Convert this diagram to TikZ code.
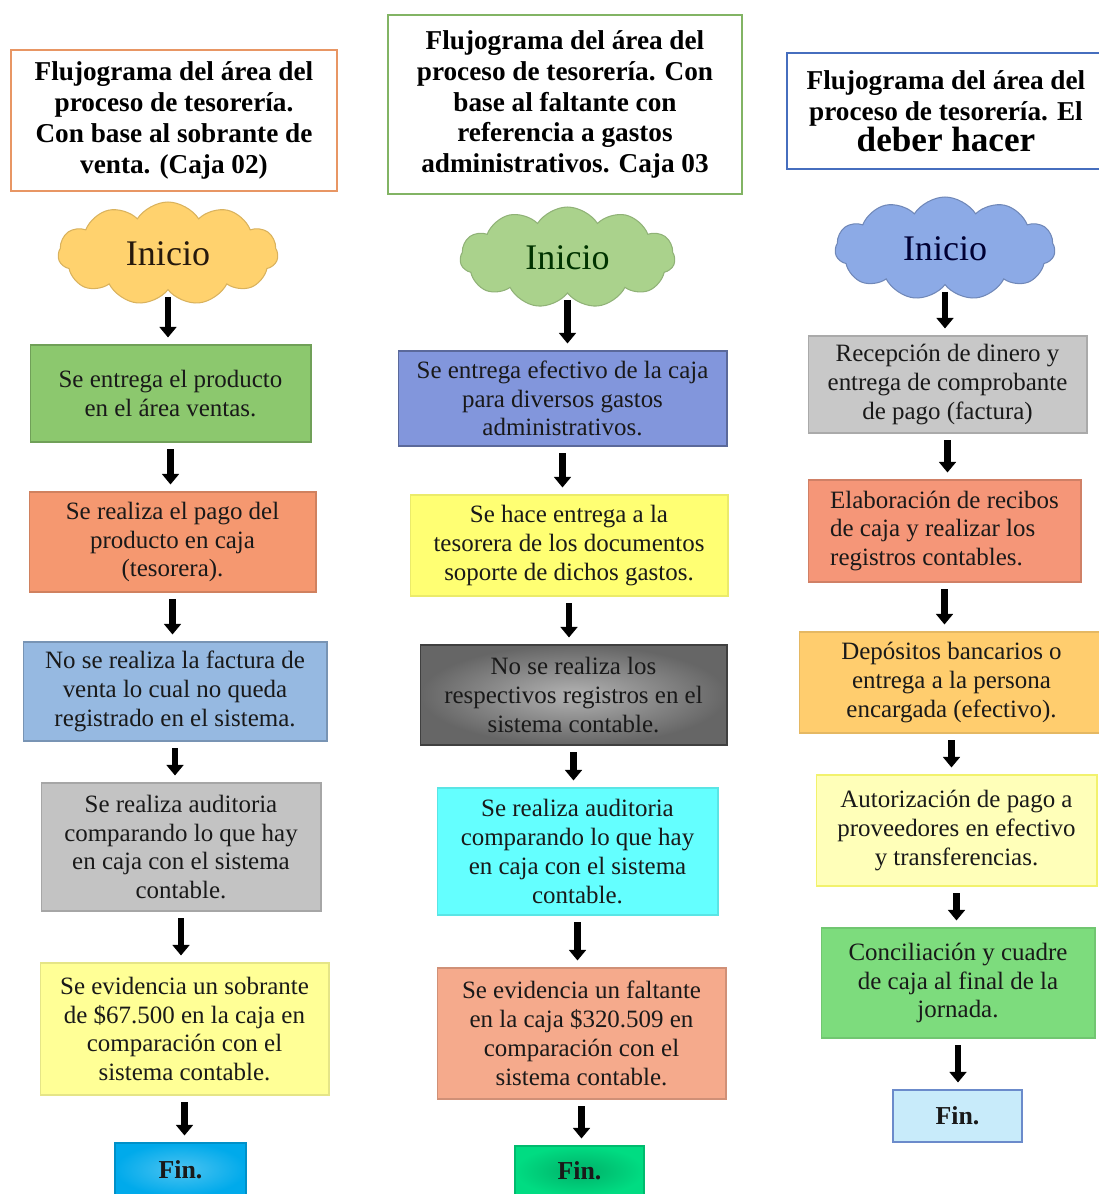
\documentclass[tikz,border=0pt]{standalone}
\usepackage{fontspec}
\setmainfont{Liberation Serif}
\usetikzlibrary{shapes.symbols,arrows.meta}

\definecolor{bordeNaranja}{RGB}{232,150,100}
\definecolor{bordeVerde}{RGB}{130,180,100}
\definecolor{bordeAzul}{RGB}{70,110,190}
\definecolor{nubeNaranja}{RGB}{255,210,110}
\definecolor{nubeVerde}{RGB}{170,210,140}
\definecolor{nubeAzul}{RGB}{140,170,230}
\definecolor{verdeA}{RGB}{140,200,110}
\definecolor{salmonA}{RGB}{245,152,112}
\definecolor{azulA}{RGB}{150,185,225}
\definecolor{grisA}{RGB}{195,195,195}
\definecolor{amarilloA}{RGB}{255,255,150}
\definecolor{celesteA}{RGB}{0,170,235}
\definecolor{azulB}{RGB}{130,150,220}
\definecolor{amarilloB}{RGB}{255,255,115}
\definecolor{cianB}{RGB}{100,255,255}
\definecolor{salmonB}{RGB}{245,170,140}
\definecolor{verdeB}{RGB}{0,220,130}
\definecolor{grisC}{RGB}{200,200,200}
\definecolor{salmonC}{RGB}{245,150,120}
\definecolor{naranjaC}{RGB}{255,205,110}
\definecolor{amarilloC}{RGB}{255,255,185}
\definecolor{verdeC}{RGB}{125,220,125}
\definecolor{celesteC}{RGB}{200,235,250}

\begin{document}
\begin{tikzpicture}[x=0.02cm,y=-0.02cm,
    caja/.style={rectangle,draw,line width=0.6pt,align=center,inner sep=2pt,text=black!90,font=\fontsize{14.2}{16.4}\selectfont},
    titulo/.style={rectangle,draw,line width=1pt,fill=white,align=center,inner sep=2pt,font=\bfseries\fontsize{15.5}{17.6}\selectfont},
    nube/.style={cloud,cloud puffs=11,cloud puff arc=115,cloud ignores aspect,draw,line width=0.6pt,font=\fontsize{20.5}{22}\selectfont,minimum width=4.4cm,minimum height=2.06cm},
    fin/.style={caja,font=\bfseries\fontsize{14.7}{16}\selectfont},
    flecha/.style={line width=3.8pt,-{Triangle[width=9.5pt,length=6pt]},shorten <=0.13cm,shorten >=0.14cm}]
    \useasboundingbox (0,0) rectangle (1099,1194);
    \clip (0,0) rectangle (1099,1194);

    % columna 1: sobrante de venta
    \node[titulo,draw=bordeNaranja,minimum width=6.52cm,minimum height=2.82cm] (t1) at (174,120.5) {Flujograma del área del\\proceso de tesorería.\\Con base al sobrante de\\venta. (Caja 02)};
    \node[nube,fill=nubeNaranja,draw=nubeNaranja!85!black,text=black!80!brown] (c1) at (168,253.5) {Inicio};
    \node[caja,fill=verdeA,draw=verdeA!80!black,minimum width=5.62cm,minimum height=1.94cm] (a11) at (170.5,393.5) {Se entrega el producto\\en el área ventas.};
    \node[caja,fill=salmonA,draw=salmonA!85!black,minimum width=5.74cm,minimum height=2cm] (a12) at (172.5,542) {Se realiza el pago del\\producto en caja\\(tesorera).};
    \node[caja,fill=azulA,draw=azulA!80!black,minimum width=6.08cm,minimum height=1.98cm] (a13) at (175,691.5) {No se realiza la factura de\\venta lo cual no queda\\registrado en el sistema.};
    \node[caja,fill=grisA,draw=grisA!85!black,minimum width=5.6cm,minimum height=2.56cm] (a14) at (181,847) {Se realiza auditoria\\comparando lo que hay\\en caja con el sistema\\contable.};
    \node[caja,fill=amarilloA,draw=amarilloA!90!black,minimum width=5.78cm,minimum height=2.64cm] (a15) at (184.5,1029) {Se evidencia un sobrante\\de \$67.500 en la caja en\\comparación con el\\sistema contable.};
    \node[fin,inner color=celesteA!70!white,outer color=celesteA,draw=celesteA!85!black,minimum width=2.62cm,minimum height=1.06cm] (f1) at (180.5,1169.5) {Fin.};

    % columna 2: faltante en gastos administrativos
    \node[titulo,draw=bordeVerde,minimum width=7.08cm,minimum height=3.58cm] (t2) at (565,104.5) {Flujograma del área del\\proceso de tesorería. Con\\base al faltante con\\referencia a gastos\\administrativos. Caja 03};
    \node[nube,fill=nubeVerde,draw=nubeVerde!85!black,text=black!80!green,minimum width=4.3cm,minimum height=2.02cm] (c2) at (567.5,257.5) {Inicio};
    \node[caja,fill=azulB,draw=azulB!70!black,minimum width=6.58cm,minimum height=1.9cm] (b21) at (562.5,398.5) {Se entrega efectivo de la caja\\para diversos gastos\\administrativos.};
    \node[caja,fill=amarilloB,draw=amarilloB!92!black,minimum width=6.36cm,minimum height=2.02cm] (b22) at (569,545.5) {Se hace entrega a la\\tesorera de los documentos\\soporte de dichos gastos.};
    \node[caja,inner color=black!30,outer color=black!60,draw=black!75,minimum width=6.14cm,minimum height=2cm] (b23) at (573.5,695) {No se realiza los\\respectivos registros en el\\sistema contable.};
    \node[caja,fill=cianB,draw=cianB!90!black,minimum width=5.62cm,minimum height=2.54cm] (b24) at (577.5,851.5) {Se realiza auditoria\\comparando lo que hay\\en caja con el sistema\\contable.};
    \node[caja,fill=salmonB,draw=salmonB!85!black,minimum width=5.78cm,minimum height=2.62cm] (b25) at (581.5,1033.5) {Se evidencia un faltante\\en la caja \$320.509 en\\comparación con el\\sistema contable.};
    \node[fin,inner color=verdeB!80!black,outer color=verdeB,draw=verdeB!85!black,minimum width=2.58cm,minimum height=1cm] (f2) at (579.5,1171) {Fin.};

    % columna 3: el deber hacer
    \node[titulo,draw=bordeAzul,minimum width=6.36cm,minimum height=2.32cm] (t3) at (946,111) {Flujograma del área del\\proceso de tesorería. El\\{\fontsize{20}{22}\selectfont deber hacer}};
    \node[nube,fill=nubeAzul,draw=nubeAzul!80!black,text=black!80!blue] (c3) at (945,248.5) {Inicio};
    \node[caja,fill=grisC,draw=grisC!85!black,minimum width=5.58cm,minimum height=1.94cm] (d31) at (947.5,384.5) {Recepción de dinero y\\entrega de comprobante\\de pago (factura)};
    \node[caja,align=left,fill=salmonC,draw=salmonC!85!black,minimum width=5.46cm,minimum height=2.04cm] (d32) at (944.5,531) {Elaboración de recibos\\de caja y realizar los\\registros contables.};
    \node[caja,fill=naranjaC,draw=naranjaC!90!black,minimum width=6.1cm,minimum height=2.02cm] (d33) at (951.5,682.5) {Depósitos bancarios o\\entrega a la persona\\encargada (efectivo).};
    \node[caja,fill=amarilloC,draw=amarilloB!95!black,minimum width=5.62cm,minimum height=2.22cm] (d34) at (956.5,830.5) {Autorización de pago a\\proveedores en efectivo\\y transferencias.};
    \node[caja,fill=verdeC,draw=verdeC!90!black,minimum width=5.48cm,minimum height=2.2cm] (d35) at (958,983) {Conciliación y cuadre\\de caja al final de la\\jornada.};
    \node[fin,fill=celesteC,draw=bordeAzul!80,minimum width=2.58cm,minimum height=1.04cm] (f3) at (957.5,1116) {Fin.};

    \draw[flecha] (c1.south) -- (c1.south |- a11.north);
    \draw[flecha] (a11.south) -- (a11.south |- a12.north);
    \draw[flecha] (a12.south) -- (a12.south |- a13.north);
    \draw[flecha] (a13.south) -- (a13.south |- a14.north);
    \draw[flecha] (a14.south) -- (a14.south |- a15.north);
    \draw[flecha] (a15.south) -- (a15.south |- f1.north);

    \draw[flecha] (c2.south) -- (c2.south |- b21.north);
    \draw[flecha] (b21.south) -- (b21.south |- b22.north);
    \draw[flecha] (b22.south) -- (b22.south |- b23.north);
    \draw[flecha] (b23.south) -- (b23.south |- b24.north);
    \draw[flecha] (b24.south) -- (b24.south |- b25.north);
    \draw[flecha] (b25.south) -- (b25.south |- f2.north);

    \draw[flecha] (c3.south) -- (c3.south |- d31.north);
    \draw[flecha] (d31.south) -- (d31.south |- d32.north);
    \draw[flecha] (d32.south) -- (d32.south |- d33.north);
    \draw[flecha] (d33.south) -- (d33.south |- d34.north);
    \draw[flecha] (d34.south) -- (d34.south |- d35.north);
    \draw[flecha] (d35.south) -- (d35.south |- f3.north);
\end{tikzpicture}
\end{document}
